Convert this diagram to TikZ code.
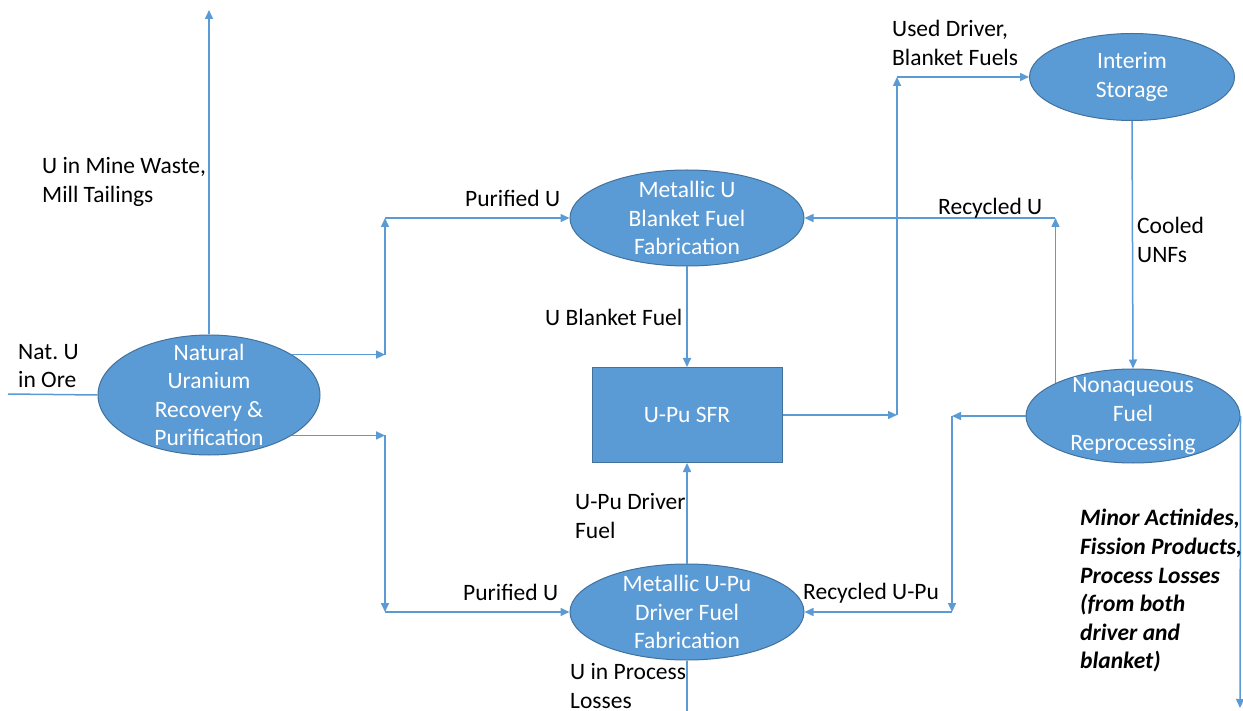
\documentclass[tikz,border=0pt]{standalone}
\usepackage{fontspec}
\setmainfont{Carlito}
\usetikzlibrary{shapes.geometric,arrows.meta}
\definecolor{obl}{HTML}{5B9BD5}
\definecolor{obd}{HTML}{41719C}
\begin{document}
\begin{tikzpicture}[x=1pt,y=-1pt,
  font=\fontsize{23.5}{28.6}\selectfont,
  ell/.style={ellipse, fill=obl, draw=obd, line width=1pt, inner sep=0pt},
  box/.style={rectangle, fill=obl, draw=obd, line width=1pt, inner sep=0pt},
  intext/.style={text=white, align=center, inner sep=0pt},
  lbl/.style={anchor=west, align=left, inner sep=0pt, text=black},
  flow/.style={draw=obl, line width=1.5pt},
  arr/.style={flow, -{Triangle[length=9pt,width=8pt]}}]
\useasboundingbox (0,0) rectangle (1243,711);
\fill[white] (0,0) rectangle (1243,711);

% process nodes
\node[ell, minimum width=222pt, minimum height=120pt] (nat) at (209,395) {};
\node[intext] (natt) at (nat.center) {Natural\\Uranium\\Recovery \&\\Purification};
\node[ell, minimum width=234pt, minimum height=96pt] (blk) at (687,218) {};
\node[intext] (blkt) at (blk.center) {Metallic U\\Blanket Fuel\\Fabrication};
\node[box, minimum width=190pt, minimum height=95pt] (sfr) at (687,415) {};
\node[intext] (sfrt) at (sfr.center) {U-Pu SFR};
\node[ell, minimum width=234pt, minimum height=96pt] (drv) at (687,612) {};
\node[intext] (drvt) at (drv.center) {Metallic U-Pu\\Driver Fuel\\Fabrication};
\node[ell, minimum width=205pt, minimum height=87pt] (int) at (1132,77) {};
\node[intext] (intt) at (int.center) {Interim\\Storage};
\node[ell, minimum width=214pt, minimum height=94pt] (nrp) at (1133,416) {};
\node[intext] (nrpt) at (nrp.center) {Nonaqueous\\Fuel\\Reprocessing};

% helper coordinates
\coordinate (src) at (8,394);
\coordinate (top) at (209,10);
\coordinate (ja) at (385,218);
\coordinate (jb) at (385,612);
\coordinate (jc) at (897,77);
\coordinate (jd) at (952,612);
\coordinate (bot) at (687,712);
\coordinate (botr) at (1240,708);

% connectors
\draw[flow] (src) -- (nat.west);
\draw[arr] (nat.north) -- (top);
\draw[arr] (nat.26) -- (nat.26 -| ja);
\draw[arr] (nat.26 -| ja) -- (ja);
\draw[arr] (ja) -- (blk.west);
\draw[arr] (nat.-26) -- (nat.-26 -| jb);
\draw[arr] (nat.-26 -| jb) -- (jb);
\draw[arr] (jb) -- (drv.west);
\draw[arr] (blk.south) -- (sfr.north);
\draw[arr] (drv.north) -- (sfr.south);
\draw[flow] (drv.south) -- (bot);
\draw[arr] (sfr.east) -- (sfr.east -| jc);
\draw[arr] (sfr.east -| jc) -- (jc);
\draw[arr] (jc) -- (int.west);
\draw[arr] (int.south) -- (nrp.north);
\draw[arr] (nrp.157) -- (nrp.157 |- blk.east);
\draw[arr] (nrp.157 |- blk.east) -- (blk.east);
\draw[arr] (nrp.west) -- (nrp.west -| jd);
\draw[arr] (nrp.west -| jd) -- (jd);
\draw[arr] (jd) -- (drv.east);
\draw[arr] (nrp.east) -- (botr);

% labels
\node[lbl] (l1) at (18,366) {Nat.\ U\\in Ore};
\node[lbl] (l2) at (42,182) {U in Mine Waste,\\Mill Tailings};
\node[lbl] (l3) at (465,198) {Purified U};
\node[lbl] (l4) at (463,592) {Purified U};
\node[lbl] (l5) at (545,317) {U Blanket Fuel};
\node[lbl] (l6) at (575,516) {U-Pu Driver\\Fuel};
\node[lbl] (l7) at (570,686) {U in Process\\Losses};
\node[lbl] (l8) at (892,43) {Used Driver,\\Blanket Fuels};
\node[lbl] (l9) at (938,208) {Recycled U};
\node[lbl] (l10) at (1137,240) {Cooled\\UNFs};
\node[lbl] (l11) at (803,593) {Recycled U-Pu};
\node[lbl, font=\fontsize{23.5}{28.6}\selectfont\bfseries\itshape] (l12) at (1080,591)
  {Minor Actinides,\\Fission Products,\\Process Losses\\(from both\\driver and\\blanket)};
\end{tikzpicture}
\end{document}
